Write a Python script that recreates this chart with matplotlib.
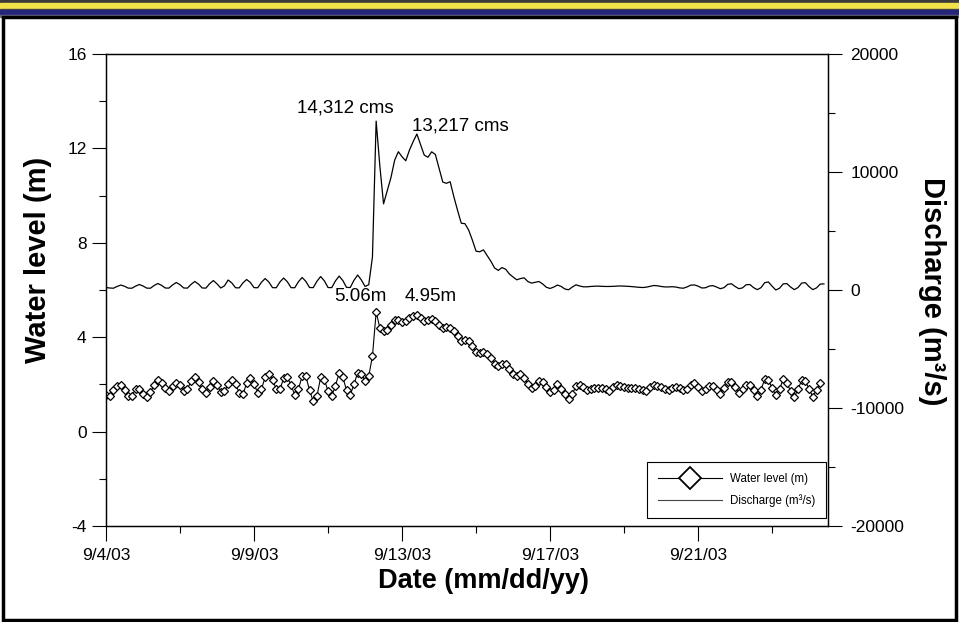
import numpy as np
import matplotlib.pyplot as plt
from matplotlib.patches import Rectangle
from matplotlib.lines import Line2D
from matplotlib.ticker import MultipleLocator

plt.rcParams['font.family'] = ['Liberation Sans', 'DejaVu Sans']
plt.rcParams['axes.unicode_minus'] = False

# date axis: one unit = one sample day, labelled every 4 units
date_ticks = [0, 4, 8, 12, 16]
date_labels = ['9/4/03', '9/9/03', '9/13/03', '9/17/03', '9/21/03']
step = 0.1  # days between samples

# discharge (m3/s)
discharge = [
    210, 170, 150, 300, 420, 320, 160, 150, 330, 465,
    340, 160, 150, 380, 550, 400, 170, 160, 430, 635,
    450, 170, 160, 480, 720, 500, 170, 160, 530, 800,
    520, 170, 350, 845, 600, 190, 180, 600, 890, 640,
    200, 190, 650, 970, 680, 200, 190, 680, 1015, 700,
    200, 190, 700, 1060, 730, 210, 200, 740, 1140, 780,
    210, 200, 770, 1180, 800, 220, 210, 820, 1270, 850,
    300, 450, 2800, 14312, 10500, 7300, 8400, 9530, 11000, 11720,
    11290, 10950, 11856, 12575, 13217, 12320, 11430, 11250, 11710, 11485,
    10320, 9150, 9040, 9175, 7900, 6750, 5660, 5620, 5075, 4230,
    3290, 3240, 3400, 2920, 2435, 1870, 1660, 1900, 1760, 1360,
    1100, 863, 970, 1030, 720, 585, 650, 720, 510, 230,
    130, 250, 420, 300, 85, 20, 250, 440, 340, 270,
    270, 300, 320, 330, 310, 300, 300, 310, 330, 340,
    330, 310, 290, 260, 230, 210, 240, 310, 380, 360,
    300, 260, 260, 280, 250, 180, 150, 260, 410, 430,
    330, 170, 190, 330, 370, 250, 110, 200, 480, 530,
    300, 110, 180, 450, 460, 200, 30, 200, 620, 680,
    320, 0, 150, 520, 540, 250, 30, 210, 590, 620,
    280, 30, 180, 500, 520,
]

# water level (m)
water_level = [
    1.57, 1.52, 1.75, 1.92, 1.97, 1.75, 1.50, 1.52, 1.80, 1.80,
    1.58, 1.46, 1.66, 1.97, 2.18, 2.05, 1.85, 1.72, 1.93, 2.05,
    1.96, 1.72, 1.80, 2.15, 2.32, 2.10, 1.80, 1.65, 1.90, 2.13,
    1.98, 1.68, 1.70, 2.00, 2.20, 2.00, 1.65, 1.58, 2.05, 2.26,
    2.00, 1.65, 1.80, 2.30, 2.44, 2.20, 1.80, 1.80, 2.25, 2.30,
    1.98, 1.55, 1.80, 2.35, 2.35, 1.75, 1.28, 1.50, 2.30, 2.20,
    1.72, 1.50, 1.95, 2.48, 2.30, 1.75, 1.55, 2.00, 2.50, 2.45,
    2.15, 2.35, 3.20, 5.06, 4.40, 4.25, 4.32, 4.50, 4.72, 4.74,
    4.65, 4.70, 4.82, 4.90, 4.95, 4.80, 4.68, 4.72, 4.78, 4.70,
    4.52, 4.40, 4.44, 4.40, 4.25, 4.05, 3.85, 3.87, 3.84, 3.62,
    3.38, 3.33, 3.38, 3.30, 3.10, 2.88, 2.80, 2.86, 2.88, 2.66,
    2.44, 2.34, 2.42, 2.26, 2.02, 1.86, 1.95, 2.15, 2.10, 1.88,
    1.66, 1.75, 2.00, 1.80, 1.58, 1.38, 1.60, 1.93, 1.98, 1.90,
    1.78, 1.82, 1.84, 1.85, 1.85, 1.82, 1.71, 1.90, 1.98, 1.94,
    1.88, 1.85, 1.85, 1.85, 1.82, 1.76, 1.74, 1.88, 1.97, 1.95,
    1.88, 1.81, 1.78, 1.86, 1.91, 1.84, 1.75, 1.80, 1.98, 2.04,
    1.88, 1.71, 1.80, 1.95, 1.94, 1.78, 1.60, 1.84, 2.12, 2.10,
    1.88, 1.62, 1.80, 1.96, 1.96, 1.77, 1.50, 1.78, 2.22, 2.20,
    1.83, 1.56, 1.80, 2.22, 2.05, 1.72, 1.46, 1.80, 2.18, 2.14,
    1.80, 1.48, 1.78, 2.05,
]

# labelled peaks
q_peaks = [14312, 13217]
wl_peaks = [5.06, 4.95]

t_q = np.arange(len(discharge)) * step
t_wl = np.arange(len(water_level)) * step

fig = plt.figure(figsize=(9.59, 6.22), dpi=100)

# header stripes and outer frame
stripes = [(0, 3, '#3a3a3a'), (3, 9, '#f2e24a'), (9, 10, '#4a4a3a'),
           (10, 15, '#26267a'), (15, 17, '#6a6a80')]
for top, bot, c in stripes:
    fig.patches.append(Rectangle((0, 1 - bot / 622), 1, (bot - top) / 622,
                                 transform=fig.transFigure, color=c, zorder=0))
fig.patches.append(Rectangle((3 / 959, 1 - 620 / 622), 953 / 959, 603 / 622,
                             transform=fig.transFigure, fill=False,
                             edgecolor='black', lw=2.5, zorder=0))

ax = fig.add_axes([106 / 959, 1 - 526 / 622, 722 / 959, 472 / 622])
ax2 = ax.twinx()

ax.plot(t_wl, water_level, color='black', lw=0.8, marker='D', ms=4.4,
        mfc='white', mec='black', mew=0.9, zorder=3)
ax2.plot(t_q, discharge, color='black', lw=0.9)

ax.set_xlim(0, 19.51)
ax.set_ylim(-4, 16)
ax2.set_ylim(-20000, 20000)

ax.set_xticks(date_ticks, date_labels)
ax.xaxis.set_minor_locator(MultipleLocator(2))
ax.set_yticks(range(-4, 17, 4))
ax.yaxis.set_minor_locator(MultipleLocator(2))
ax2.set_yticks(range(-20000, 20001, 10000))
ax2.yaxis.set_minor_locator(MultipleLocator(5000))

for a in (ax, ax2):
    a.tick_params(which='major', direction='out', length=10, width=0.8,
                  labelsize=12.5, pad=4)
    a.tick_params(which='minor', direction='out', length=5, width=0.8)
    for s in a.spines.values():
        s.set_linewidth(0.9)
ax.tick_params(axis='x', which='major', length=11, pad=5)
ax2.tick_params(axis='y', pad=6)

ax.set_xlabel('Date (mm/dd/yy)', fontsize=19.5, fontweight='bold')
ax.xaxis.set_label_coords((483 - 106) / 722, -0.088)
ax.set_ylabel('Water level (m)', fontsize=21, fontweight='bold')
ax.yaxis.set_label_coords((52 - 106) / 722, 0.5636)
ax2.set_ylabel('Discharge (m³/s)', fontsize=21, fontweight='bold',
               rotation=270, va='bottom')
ax2.yaxis.set_label_coords((918 - 106) / 722, 0.498)

# peak labels
q_offsets = [(-22, 6.5), (31, 2.2)]
for v, (dx, dy) in zip(q_peaks, q_offsets):
    i = discharge.index(v)
    ax2.annotate(f'{v:,} cms', xy=(t_q[i], v), xytext=(dx, dy),
                 textcoords='offset points', ha='center', va='baseline',
                 fontsize=13.5)
wl_offsets = [(-11.5, 8.4), (10, 10)]
for v, (dx, dy) in zip(wl_peaks, wl_offsets):
    i = water_level.index(v)
    ax.annotate(f'{v:.2f}m', xy=(t_wl[i], v), xytext=(dx, dy),
                textcoords='offset points', ha='center', va='baseline',
                fontsize=13.5)

handles = [
    Line2D([], [], color='black', lw=0.8, marker='D', ms=11, mfc='white',
           mec='black', mew=1.3),
    Line2D([], [], color='#444444', lw=0.8),
]
leg = ax2.legend(handles, ['Water level (m)', 'Discharge (m³/s)'],
                 loc='lower right', bbox_to_anchor=(0.997, 0.018),
                 borderaxespad=0, fontsize=8.3, handlelength=5.6,
                 handletextpad=0.65, borderpad=0.95, labelspacing=0.75,
                 fancybox=False, framealpha=1, edgecolor='black')
leg.get_frame().set_linewidth(0.8)

fig.savefig('out.png', dpi=100)
